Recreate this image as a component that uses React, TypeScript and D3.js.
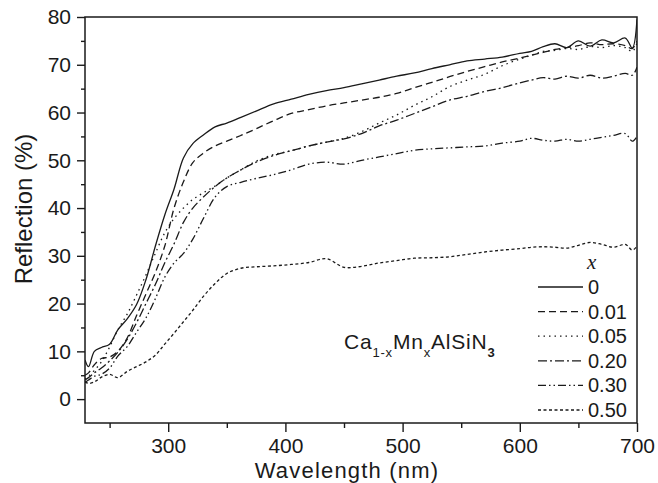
import React, { useEffect, useRef } from "react";
import * as d3 from "d3";

// wavelength grid (nm) the curves were read at
const wavelengths = [
  229, 232, 237, 243, 250, 257, 265, 273, 281, 289, 297, 305, 313, 321, 330, 340, 350, 362, 375, 390,
  405, 420, 435, 450, 465, 480, 495, 510, 525, 540, 555, 570, 585, 600, 610, 620, 630, 640, 650, 660,
  670, 680, 690, 696, 700,
];

// reflection (%) for each Mn content x
const refl000 = [
  8.2, 6.8, 10.0, 10.8, 11.5, 14.5, 16.8, 19.8, 25.0, 32.0, 38.5, 44.0, 50.5, 53.5, 55.3, 57.0, 57.8, 59.0, 60.3, 61.8,
  62.8, 63.8, 64.6, 65.2, 66.0, 66.8, 67.6, 68.3, 69.2, 70.0, 70.8, 71.2, 71.6, 72.4, 72.8, 73.8, 74.4, 73.6, 75.0, 73.9,
  75.2, 74.6, 75.6, 73.5, 79.5,
];
const refl001 = [
  5.0, 5.5, 7.2, 8.5, 8.8, 10.0, 12.8, 17.5, 22.0, 26.5, 32.0, 40.0, 45.5, 49.5, 51.5, 53.0, 54.0, 55.2, 56.6, 58.3,
  59.8, 60.6, 61.4, 62.0, 62.6, 63.2, 64.0, 65.2, 66.3, 67.5, 68.6, 69.6, 70.6, 71.4, 72.0, 72.6, 73.2, 73.6, 74.0, 74.6,
  74.2, 74.4, 74.0, 73.4, 75.0,
];
const refl005 = [
  4.2, 4.8, 6.0, 7.8, 10.9, 14.5, 17.8, 21.8, 26.0, 30.5, 34.8, 37.8, 40.0, 41.8, 43.2, 44.6, 46.3, 48.0, 49.8, 51.2,
  52.0, 53.0, 53.8, 54.6, 56.0, 57.8, 59.5, 61.5, 63.3, 65.4, 66.8, 68.0, 69.8, 71.2, 72.0, 72.8, 73.0, 73.4, 73.2, 73.8,
  73.6, 74.0, 73.6, 72.8, 74.5,
];
const refl020 = [
  4.0, 4.5, 5.5, 6.5, 8.0, 9.8, 12.5, 16.0, 20.0, 24.0, 28.5, 32.5, 37.0, 40.0, 42.3, 44.5, 46.3, 48.0, 49.6, 51.0,
  52.0, 53.0, 53.8, 54.5, 55.6, 57.2, 58.4, 59.8, 61.2, 62.6, 63.4, 64.4, 65.2, 66.2, 66.8, 67.3, 67.0, 67.6, 67.2, 67.8,
  67.2, 67.6, 68.2, 67.8, 69.5,
];
const refl030 = [
  3.5, 4.0, 4.8, 5.2, 6.5, 9.0, 11.0, 14.0, 17.0, 21.0, 25.5, 28.5, 30.5, 33.5, 37.8, 42.3, 44.5, 45.4, 46.2, 47.0,
  48.0, 49.2, 49.6, 49.2, 50.0, 50.7, 51.4, 52.1, 52.4, 52.6, 52.8, 53.0, 53.6, 54.0, 54.6, 54.2, 54.0, 54.4, 54.0, 54.4,
  54.8, 55.2, 55.6, 54.0, 55.0,
];
const refl050 = [
  3.6, 3.3, 3.6, 4.6, 5.2, 4.5, 5.8, 6.8, 7.8, 9.2, 11.5, 13.8, 16.2, 18.6, 21.5, 24.2, 26.3, 27.4, 27.7, 27.9,
  28.2, 28.6, 29.4, 27.6, 27.8, 28.5, 29.0, 29.5, 29.6, 29.8, 30.3, 30.8, 31.2, 31.5, 31.8, 31.9, 31.8, 31.6, 32.2, 32.8,
  32.4, 31.8, 32.4, 31.2, 32.0,
];

const seriesValues = [refl000, refl001, refl005, refl020, refl030, refl050];
const seriesLabels = ["0", "0.01", "0.05", "0.20", "0.30", "0.50"];
const dashes = ["none", "7,4", "1.5,4", "9,3,2,3", "8,3,1.5,3,1.5,3", "3,2.5"];

const xMajor = [300, 400, 500, 600, 700];
const xMinor = [250, 350, 450, 550, 650];
const yMajor = [0, 10, 20, 30, 40, 50, 60, 70, 80];
const yMinor = [5, 15, 25, 35, 45, 55, 65, 75];

const font = "'Liberation Sans', Arial, sans-serif";
const ink = "#1a1a1a";

export default function App() {
  const xAxisRef = useRef<SVGGElement>(null);
  const yAxisRef = useRef<SVGGElement>(null);

  const width = 658;
  const height = 483;
  const margin = { top: 17, right: 21, bottom: 60, left: 85 };

  const x = d3.scaleLinear().domain([229, 700]).range([margin.left, width - margin.right]);
  const y = d3.scaleLinear().domain([-5, 80]).range([height - margin.bottom, margin.top]);

  const line = d3
    .line<number>()
    .x((d, i) => x(wavelengths[i]))
    .y((d) => y(d))
    .curve(d3.curveCatmullRom.alpha(0.5));

  useEffect(() => {
    const gx = d3.select(xAxisRef.current);
    gx.selectAll("*").remove();
    gx.append("g").call(d3.axisBottom(x).tickValues(xMajor).tickSize(9).tickPadding(6));
    gx.append("g").call(d3.axisBottom(x).tickValues(xMinor).tickSize(5).tickFormat(() => ""));
    gx.selectAll(".domain").remove();
    gx.selectAll("line").attr("stroke", ink).attr("stroke-width", 1.4);
    gx.selectAll("text").attr("font-size", 21).attr("font-family", font).attr("fill", ink);

    const gy = d3.select(yAxisRef.current);
    gy.selectAll("*").remove();
    gy.append("g").call(d3.axisLeft(y).tickValues(yMajor).tickSize(8).tickPadding(6));
    gy.append("g").call(d3.axisLeft(y).tickValues(yMinor).tickSize(4).tickFormat(() => ""));
    gy.selectAll(".domain").remove();
    gy.selectAll("line").attr("stroke", ink).attr("stroke-width", 1.4);
    gy.selectAll("text").attr("font-size", 21).attr("font-family", font).attr("fill", ink);
  }, []);

  const legendX = 538;
  const legendY = 287;
  const legendStep = 24.6;

  return (
    <svg
      width={width}
      height={height}
      style={{ position: "absolute", left: 0, top: 0, background: "#fff" }}
      fontFamily={font}
    >
      <defs>
        <clipPath id="plot">
          <rect x={margin.left} y={margin.top} width={x(700) - x(229)} height={y(-5) - y(80)} />
        </clipPath>
      </defs>

      <g clipPath="url(#plot)">
        {seriesValues.map((vals, i) => (
          <path
            key={seriesLabels[i]}
            d={line(vals) ?? ""}
            fill="none"
            stroke={ink}
            strokeWidth={1.3}
            strokeDasharray={dashes[i]}
          />
        ))}
      </g>

      <rect
        x={margin.left}
        y={margin.top}
        width={x(700) - x(229)}
        height={y(-5) - y(80)}
        fill="none"
        stroke={ink}
        strokeWidth={1.5}
      />
      <g ref={xAxisRef} transform={`translate(0,${y(-5)})`} />
      <g ref={yAxisRef} transform={`translate(${margin.left},0)`} />

      <text x={347} y={478} fontSize={22} letterSpacing={1.2} textAnchor="middle" fill={ink}>
        Wavelength (nm)
      </text>
      <text transform="translate(32,209) rotate(-90)" fontSize={24} textAnchor="middle" fill={ink}>
        Reflection (%)
      </text>

      {/* formula label */}
      <text x={344} y={349} fontSize={21} letterSpacing={0.8} fill={ink}>
        Ca
        <tspan fontSize={13} dy={8}>1-x</tspan>
        <tspan dy={-8}>Mn</tspan>
        <tspan fontSize={13} dy={8}>x</tspan>
        <tspan dy={-8}>AlSiN</tspan>
        <tspan fontSize={13} dy={8} fontWeight="bold">3</tspan>
      </text>

      {/* legend */}
      <text
        x={587}
        y={legendY - 18}
        fontSize={21}
        fontStyle="italic"
        fontFamily="'Liberation Serif', 'DejaVu Serif', serif"
        fill={ink}
      >
        x
      </text>
      {seriesLabels.map((lab, i) => (
        <g key={lab} transform={`translate(0,${legendY + i * legendStep})`}>
          <line
            x1={legendX}
            x2={legendX + 45}
            y1={0}
            y2={0}
            stroke={ink}
            strokeWidth={1.3}
            strokeDasharray={dashes[i]}
          />
          <text x={legendX + 50} y={0} dy="0.35em" fontSize={20} fill={ink}>
            {lab}
          </text>
        </g>
      ))}
    </svg>
  );
}
